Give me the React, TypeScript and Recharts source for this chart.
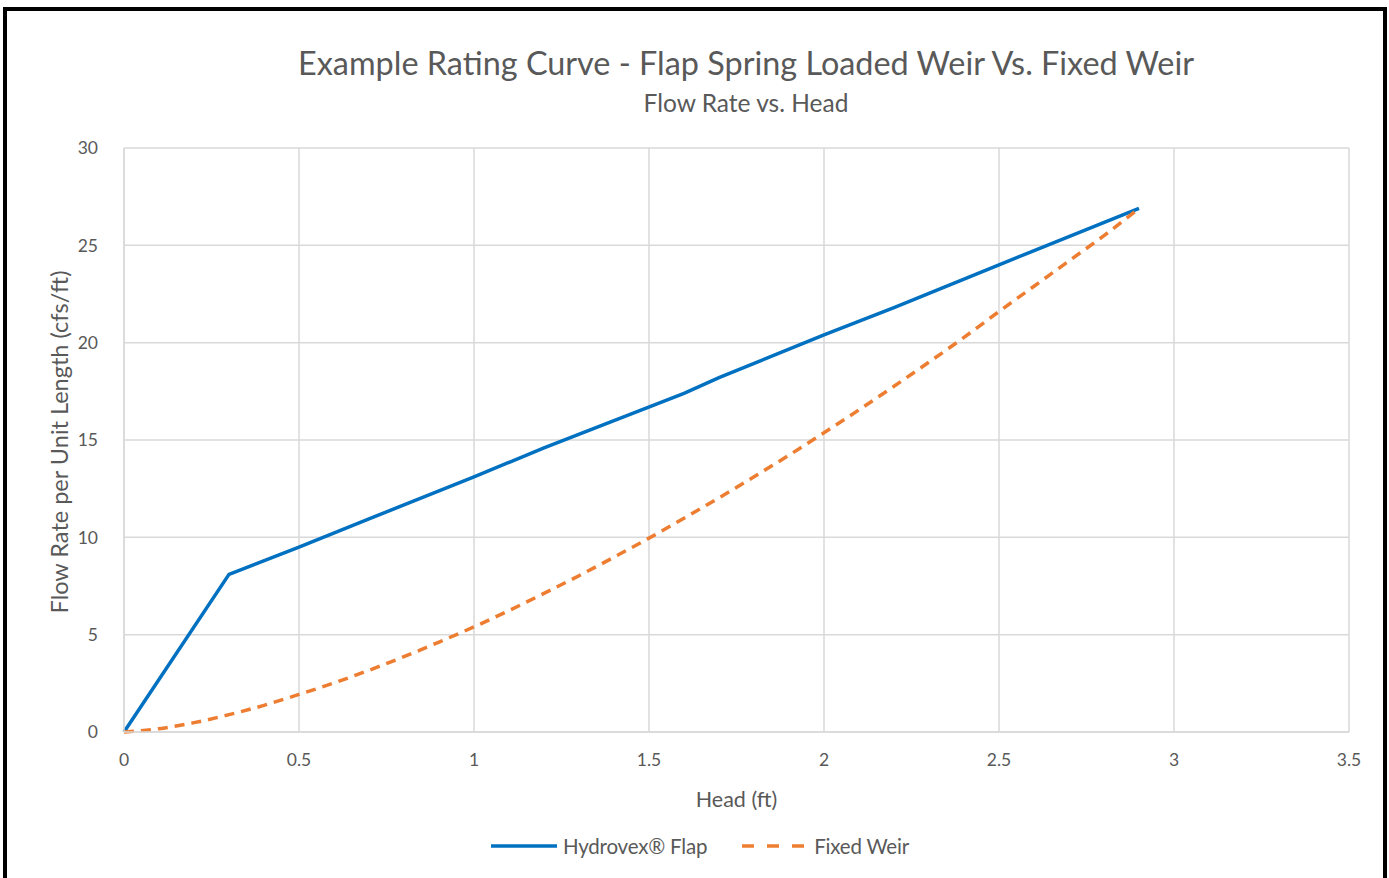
import React from "react";
import { LineChart, Line, XAxis, YAxis, CartesianGrid, Legend } from "recharts";

const xTicks = [0, 0.5, 1, 1.5, 2, 2.5, 3, 3.5];
const yTicks = [0, 5, 10, 15, 20, 25, 30];

// Hydrovex flap: head (ft) -> flow (cfs/ft)
const flapHead = [0, 0.3, 0.5, 0.7, 1.0, 1.2, 1.4, 1.6, 1.7, 2.0, 2.2, 2.5, 2.9];
const flapFlow = [0, 8.1, 9.5, 10.95, 13.1, 14.6, 16.0, 17.4, 18.2, 20.4, 21.8, 24.0, 26.9];

// fixed weir
const weirHead = [0, 0.1, 0.2, 0.3, 0.4, 0.5, 0.6, 0.7, 0.8, 0.9, 1.0, 1.1, 1.2, 1.3, 1.4, 1.5, 1.6, 1.7, 1.8, 1.9, 2.0, 2.1, 2.2, 2.3, 2.4, 2.5, 2.6, 2.7, 2.8, 2.9];
const weirFlow = [0, 0.17, 0.48, 0.89, 1.37, 1.93, 2.52, 3.17, 3.87, 4.62, 5.4, 6.24, 7.12, 8.03, 8.98, 9.96, 10.98, 12.03, 13.11, 14.22, 15.37, 16.55, 17.76, 19.0, 20.27, 21.6, 22.9, 24.2, 25.5, 26.9];

const flapData = flapHead.map((h, i) => ({ h, q: flapFlow[i] }));
const weirData = weirHead.map((h, i) => ({ h, q: weirFlow[i] }));

const BLUE = "#0070C0";
const ORANGE = "#ED7D31";
const TEXT = "#595959";
const GRID = "#d9d9d9";
const FONT = "Lato, 'Open Sans', sans-serif";

const legendItems = [
  { name: "Hydrovex® Flap", color: BLUE, dash: undefined },
  { name: "Fixed Weir", color: ORANGE, dash: "12 13" },
];

function LegendContent() {
  return (
    <div style={{ height: 40, display: "flex", justifyContent: "center", alignItems: "flex-start", paddingLeft: 84 }}>
      {legendItems.map((it) => (
        <div key={it.name} style={{ display: "flex", alignItems: "center", marginRight: 34, height: 16 }}>
          <svg width={68} height={6} style={{ marginRight: 5 }}>
            <line x1={1} y1={3} x2={67} y2={3} stroke={it.color} strokeWidth={3.5} strokeDasharray={it.dash} />
          </svg>
          <span style={{ color: TEXT, fontSize: 20.5, fontFamily: FONT, letterSpacing: -0.2 }}>{it.name}</span>
        </div>
      ))}
    </div>
  );
}

export default function App() {
  return (
    <div>
      <div
        style={{
          position: "absolute",
          left: 3,
          top: 7,
          width: 1384,
          height: 900,
          border: "4px solid #000",
          boxSizing: "border-box",
          background: "#fff",
        }}
      />
      <div
        style={{
          position: "absolute",
          left: 0,
          top: 43,
          width: 1492,
          textAlign: "center",
          fontFamily: FONT,
          color: TEXT,
          fontSize: 32.4,
          lineHeight: "40px",
        }}
      >
        Example Rating Curve - Flap Spring Loaded Weir Vs. Fixed Weir
      </div>
      <div
        style={{
          position: "absolute",
          left: 0,
          top: 88,
          width: 1492,
          textAlign: "center",
          fontFamily: FONT,
          color: TEXT,
          fontSize: 24.5,
          lineHeight: "30px",
        }}
      >
        Flow Rate vs. Head
      </div>
      <div style={{ position: "absolute", left: 0, top: 0 }}>
        <LineChart
          width={1389}
          height={878}
          margin={{ top: 148, right: 40, bottom: 0, left: 0 }}
          style={{ fontFamily: FONT }}
        >
          <CartesianGrid stroke={GRID} strokeWidth={1.5} />
          <XAxis
            type="number"
            dataKey="h"
            domain={[0, 3.5]}
            ticks={xTicks}
            height={106}
            tickLine={false}
            axisLine={{ stroke: GRID, strokeWidth: 1.5 }}
            tickMargin={16}
            tick={{ fill: TEXT, fontSize: 17.5 }}
            label={{ value: "Head (ft)", position: "center", dy: 14, fill: TEXT, fontSize: 21.5 }}
          />
          <YAxis
            type="number"
            domain={[0, 30]}
            ticks={yTicks}
            width={124}
            tickLine={false}
            axisLine={{ stroke: GRID, strokeWidth: 1.5 }}
            tickMargin={20}
            tick={{ fill: TEXT, fontSize: 17.5 }}
            label={{
              value: "Flow Rate per Unit Length  (cfs/ft)",
              angle: -90,
              position: "center",
              dx: -2,
              dy: 2,
              fill: TEXT,
              fontSize: 23.5,
            }}
          />
          <Legend verticalAlign="bottom" height={40} content={<LegendContent />} />
          <Line
            data={flapData}
            dataKey="q"
            name="Hydrovex® Flap"
            stroke={BLUE}
            strokeWidth={3.5}
            dot={false}
            type="linear"
            isAnimationActive={false}
          />
          <Line
            data={weirData}
            dataKey="q"
            name="Fixed Weir"
            stroke={ORANGE}
            strokeWidth={3.5}
            strokeDasharray="10 7"
            dot={false}
            type="monotone"
            isAnimationActive={false}
          />
        </LineChart>
      </div>
    </div>
  );
}
